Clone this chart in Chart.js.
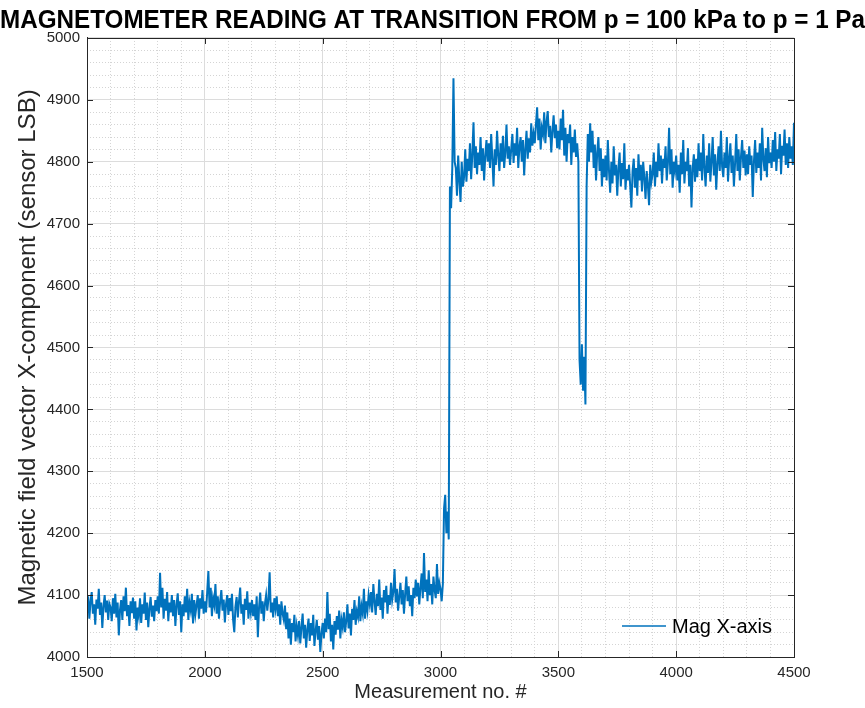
<!DOCTYPE html>
<html>
<head>
<meta charset="utf-8">
<script src="https://cdn.jsdelivr.net/npm/chart.js@4/dist/chart.umd.min.js"></script>
<style>
  body { margin: 0; background: #fff; }
</style>
</head>
<body>
<canvas id="magChart" width="865" height="708"></canvas>
<script>
// measurement numbers, one reading every 5 samples
const measStart = 1500;
const measStep = 5;

// x-axis magnetometer reading (LSB), 20 values per 100 samples
const magX = [
    4075, 4098, 4062, 4090, 4105, 4070, 4085, 4052, 4093, 4078, 4110, 4068, 4088, 4047, 4082, 4100, 4072, 4091, 4060, 4086,
    4080, 4058, 4095, 4070, 4102, 4064, 4088, 4035, 4076, 4092, 4060, 4098, 4074, 4112, 4066, 4084, 4050, 4090, 4071, 4096,
    4062, 4090, 4043, 4080, 4066, 4095, 4055, 4085, 4070, 4104, 4060, 4088, 4048, 4079, 4097, 4065, 4083, 4058, 4092, 4074,
    4098, 4070, 4136, 4080, 4112, 4062, 4094, 4075, 4105, 4058, 4088, 4072, 4100, 4066, 4092, 4050, 4084, 4103, 4068, 4090,
    4040, 4085, 4066, 4098, 4072, 4110, 4060, 4088, 4076, 4102, 4054, 4092, 4069, 4084, 4100, 4062, 4095, 4078, 4108, 4070,
    4090, 4072, 4105, 4139, 4080, 4112, 4066, 4095, 4084, 4118, 4070, 4098, 4062, 4090, 4108, 4075, 4093, 4056, 4086, 4100,
    4068, 4095, 4074, 4102, 4060, 4040, 4082, 4097, 4064, 4090, 4112, 4070, 4085, 4052, 4094, 4076, 4106, 4062, 4088, 4072,
    4092, 4066, 4085, 4060, 4098, 4032, 4080, 4104, 4070, 4090, 4058, 4086, 4100, 4075, 4094, 4137, 4072, 4088, 4064, 4095,
    4078, 4098, 4066, 4085, 4052, 4090, 4070, 4060, 4083, 4045, 4072, 4030, 4062, 4020, 4055, 4040, 4068, 4025, 4050, 4035,
    4058, 4022, 4048, 4070, 4030, 4052, 4015, 4045, 4062, 4026, 4055, 4035, 4068, 4018, 4042, 4060, 4028, 4050, 4008, 4038,
    4055, 4030, 4062, 4040, 4105, 4045, 4070, 4025, 4052, 4012, 4058, 4036, 4066, 4044, 4075, 4030, 4060, 4048, 4072, 4040,
    4058, 4085, 4046, 4070, 4035, 4078, 4060, 4092, 4052, 4074, 4065, 4098, 4058, 4082, 4070, 4110, 4062, 4090, 4075, 4100,
    4085, 4105, 4072, 4118, 4090, 4068, 4102, 4082, 4125, 4076, 4096, 4062, 4108, 4088, 4115, 4070, 4100, 4084, 4120, 4092,
    4105, 4142, 4088, 4110, 4075, 4098, 4120, 4085, 4108, 4070, 4102, 4130, 4090, 4114, 4082, 4100, 4066, 4112, 4095, 4125,
    4098, 4120, 4085, 4112, 4135, 4095, 4168, 4105, 4125, 4090, 4140, 4100, 4118, 4085, 4130, 4108, 4095, 4150, 4102, 4120,
    4110, 4090, 4118, 4240, 4262, 4200, 4235, 4190, 4760, 4725, 4790, 4935, 4800, 4790, 4745, 4810, 4770, 4735, 4800, 4760,
    4775, 4820, 4768, 4805, 4785, 4830, 4772, 4812, 4864, 4790, 4825, 4780, 4815, 4795, 4840, 4785, 4822, 4770, 4810, 4835,
    4800, 4830, 4790, 4845, 4805, 4760, 4820, 4795, 4850, 4810, 4785, 4830, 4800, 4842, 4790, 4815, 4860, 4805, 4825, 4795,
    4820, 4845, 4798, 4830, 4810, 4855, 4790, 4825, 4840, 4800, 4835, 4778, 4820, 4850, 4805, 4838, 4815, 4862, 4826, 4845,
    4830, 4860, 4888, 4835, 4870, 4820, 4855, 4845, 4880, 4830, 4865, 4882, 4840, 4858, 4815, 4850, 4875, 4838, 4860, 4822,
    4850, 4820, 4870, 4835, 4884, 4810, 4855, 4800, 4845, 4830, 4860, 4795, 4840, 4815, 4852, 4808, 4830, 4800, 4480, 4440,
    4505, 4430, 4485, 4408, 4760, 4845, 4800, 4862, 4815, 4850, 4790, 4828, 4770, 4815, 4840, 4785, 4822, 4760, 4805, 4775,
    4810, 4770, 4835, 4785, 4750, 4800, 4765, 4825, 4778, 4795, 4745, 4790, 4815, 4760, 4798, 4772, 4830, 4755, 4788, 4770,
    4795, 4760, 4726, 4785, 4805, 4758, 4790, 4745, 4812, 4770, 4795, 4752, 4800, 4775, 4740, 4785, 4762, 4730, 4795, 4768,
    4780, 4815, 4760, 4800, 4775, 4830, 4785, 4810, 4765, 4805, 4790, 4825, 4770, 4798, 4855, 4780, 4820, 4758, 4800, 4785,
    4810, 4770, 4795, 4750, 4815, 4780, 4835, 4765, 4800, 4785, 4822, 4760, 4795, 4726, 4790, 4812, 4768, 4805, 4775, 4830,
    4785, 4815, 4770, 4845, 4790, 4760, 4810, 4782, 4830, 4768, 4800, 4840, 4778, 4812, 4755, 4798, 4825, 4785, 4850, 4792,
    4775, 4815, 4790, 4840, 4768, 4805, 4830, 4782, 4810, 4760, 4798, 4845, 4785, 4820, 4770, 4808, 4835, 4790, 4818, 4778,
    4812, 4780, 4825, 4795, 4810, 4743, 4800, 4835, 4782, 4815, 4790, 4830, 4770, 4855, 4805, 4785, 4822, 4775, 4840, 4798,
    4815, 4790, 4835, 4800, 4848, 4785, 4820, 4805, 4845, 4780, 4826, 4810, 4852, 4795, 4830, 4790, 4840, 4805, 4825, 4795,
    4863
];

const xTicks = [1500, 2000, 2500, 3000, 3500, 4000, 4500];
const yTicks = [4000, 4100, 4200, 4300, 4400, 4500, 4600, 4700, 4800, 4900, 5000];

const FONT = "'Liberation Sans', Arial, sans-serif";
const AXIS_COL = "#262626";

const points = magX.map((v, i) => ({ x: measStart + i * measStep, y: v }));

// MATLAB style box: inward ticks, full frame and the legend in the lower right
const matlabBox = {
    id: "matlabBox",
    afterDraw(chart) {
        const ctx = chart.ctx;
        const area = chart.chartArea;
        const xs = chart.scales.x;
        const ys = chart.scales.y;
        ctx.save();
        ctx.strokeStyle = AXIS_COL;
        ctx.lineWidth = 1;
        ctx.beginPath();
        xs.ticks.forEach(t => {
            const px = Math.round(xs.getPixelForValue(t.value)) + 0.5;
            ctx.moveTo(px, area.bottom); ctx.lineTo(px, area.bottom - 6);
            ctx.moveTo(px, area.top); ctx.lineTo(px, area.top + 6);
        });
        ys.ticks.forEach(t => {
            const py = Math.round(ys.getPixelForValue(t.value)) + 0.5;
            ctx.moveTo(area.left, py); ctx.lineTo(area.left + 6, py);
            ctx.moveTo(area.right, py); ctx.lineTo(area.right - 6, py);
        });
        ctx.stroke();
        ctx.strokeRect(Math.round(area.left) + 0.5, Math.round(area.top) + 0.5,
            Math.round(area.right - area.left), Math.round(area.bottom - area.top));

        // legend
        const ds = chart.data.datasets[0];
        const ly = area.bottom - 31;
        const lx = area.right - 172;
        ctx.strokeStyle = ds.borderColor;
        ctx.lineWidth = 1.5;
        ctx.beginPath();
        ctx.moveTo(lx, ly); ctx.lineTo(lx + 44, ly);
        ctx.stroke();
        ctx.fillStyle = "#000";
        ctx.font = "20px " + FONT;
        ctx.textBaseline = "middle";
        ctx.fillText(ds.label, lx + 50, ly + 1);
        ctx.restore();
    }
};

const magChart = new Chart(
    document.getElementById("magChart"),
    {
        type: "line",
        data: {
            datasets: [{
                label: "Mag X-axis",
                data: points,
                borderColor: "#0072BD",
                borderWidth: 2,
                pointRadius: 0,
                tension: 0
            }]
        },
        options: {
            responsive: false,
            animation: false,
            parsing: false,
            layout: {
                padding: 0
            },
            plugins: {
                legend: { display: false },
                tooltip: { enabled: false },
                title: {
                    display: true,
                    text: "MAGNETOMETER READING AT TRANSITION FROM p = 100 kPa to p = 1 Pa",
                    color: "#000",
                    font: { family: FONT, size: 25.8, weight: "bold", lineHeight: 1.1 },
                    padding: { top: 7, bottom: 2.6 }
                }
            },
            scales: {
                xMinor: {
                    type: "linear",
                    position: "bottom",
                    min: 1500,
                    max: 4500,
                    ticks: { stepSize: 100, display: false },
                    grid: { color: "#d4d4d4", drawTicks: false, lineWidth: 1 },
                    border: { display: false, dash: [1, 2] },
                    afterFit(s) { s.height = 0; }
                },
                yMinor: {
                    type: "linear",
                    position: "right",
                    min: 4000,
                    max: 5000,
                    ticks: { stepSize: 20, display: false },
                    grid: { color: "#d4d4d4", drawTicks: false, lineWidth: 1 },
                    border: { display: false, dash: [1, 2] },
                    afterFit(s) { s.width = 71; }
                },
                x: {
                    type: "linear",
                    position: "bottom",
                    min: 1500,
                    max: 4500,
                    afterBuildTicks(s) { s.ticks = xTicks.map(v => ({ value: v })); },
                    afterFit(s) { s.height = 51; },
                    ticks: {
                        color: AXIS_COL,
                        font: { family: FONT, size: 15 },
                        padding: 7,
                        maxRotation: 0,
                        callback: v => String(v)
                    },
                    grid: { color: "#dcdcdc", drawTicks: false, lineWidth: 1 },
                    border: { color: AXIS_COL },
                    title: {
                        display: true,
                        text: "Measurement no. #",
                        color: AXIS_COL,
                        font: { family: FONT, size: 20 },
                        padding: { top: 0, bottom: 4 }
                    }
                },
                y: {
                    type: "linear",
                    position: "left",
                    min: 4000,
                    max: 5000,
                    afterBuildTicks(s) { s.ticks = yTicks.map(v => ({ value: v })); },
                    afterFit(s) { s.width = 87; },
                    ticks: {
                        color: AXIS_COL,
                        font: { family: FONT, size: 15 },
                        padding: 7,
                        callback: v => String(v)
                    },
                    grid: { color: "#dcdcdc", drawTicks: false, lineWidth: 1 },
                    border: { color: AXIS_COL },
                    title: {
                        display: true,
                        text: "Magnetic field vector X-component (sensor LSB)",
                        color: AXIS_COL,
                        font: { family: FONT, size: 24 },
                        padding: { top: 14, bottom: 0 }
                    }
                }
            }
        },
        plugins: [matlabBox]
    }
);
</script>
</body>
</html>
